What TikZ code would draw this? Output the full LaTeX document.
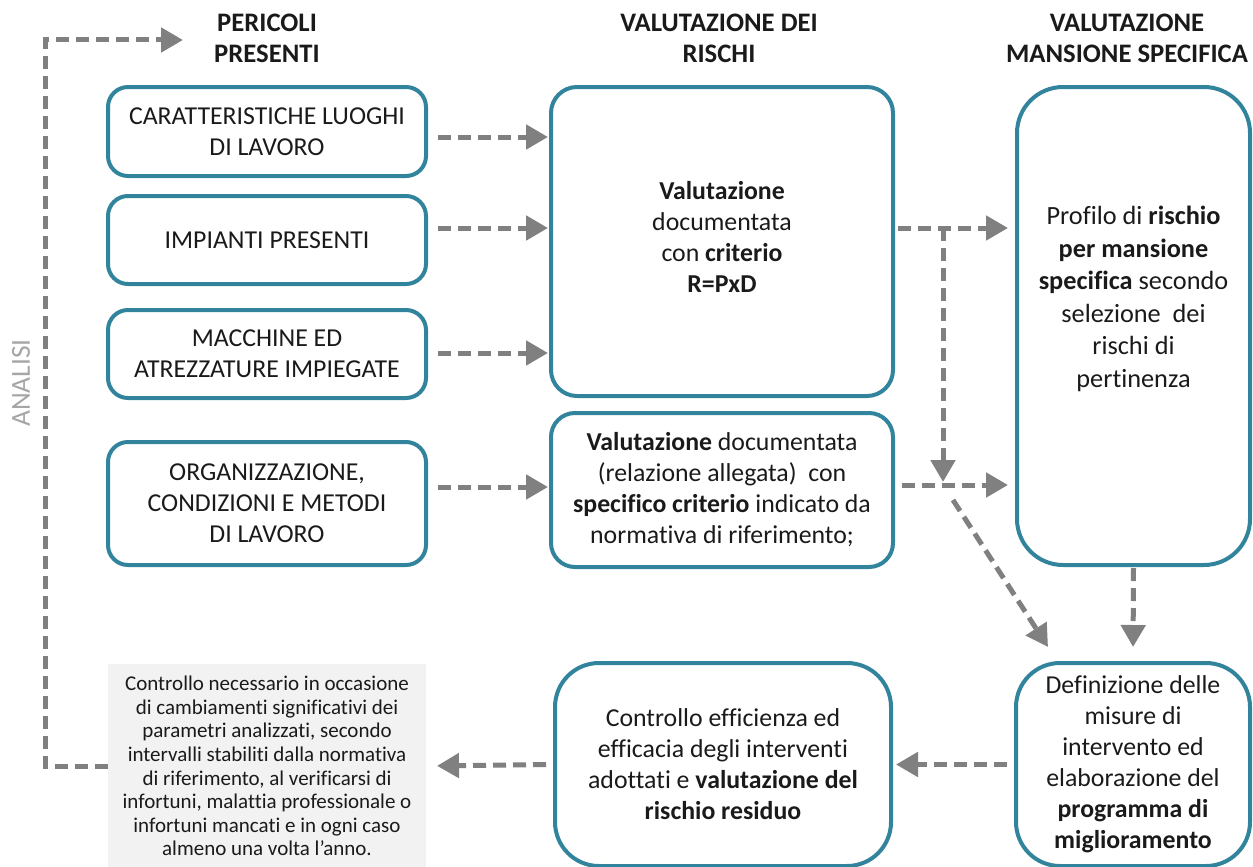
\documentclass[tikz,border=0pt]{standalone}
\usepackage{fontspec}
\setmainfont{Carlito}[Ligatures=NoCommon]
\usetikzlibrary{arrows.meta}
\definecolor{boxteal}{HTML}{31849B}
\definecolor{arrgrey}{HTML}{808080}
\definecolor{txt}{HTML}{1A1A1A}
\definecolor{analgrey}{HTML}{A6A6A6}
\definecolor{notegrey}{HTML}{F2F2F2}
\begin{document}
\begin{tikzpicture}[x=1pt,y=-1pt,
  box/.style={draw=boxteal, line width=4pt, rounded corners=#1, align=center, inner sep=0pt, font=\fontsize{25.8}{31}\selectfont, text=txt},
  box/.default=20pt,
  lbl/.style={align=center, inner sep=0pt, font=\fontsize{25.8}{31}\selectfont, text=txt},
  arr/.style={draw=arrgrey, line width=5pt, dash pattern=on 13pt off 7pt, -{Triangle[length=22pt,width=24pt]}},
  hdr/.style={align=center, inner sep=0pt, font=\bfseries\fontsize{26.7}{31}\selectfont, text=txt}
]
\useasboundingbox (0,0) rectangle (1253,867);

% headers
\node[hdr] (h1) at (267,38) {PERICOLI\\PRESENTI};
\node[hdr] (h2) at (719,38) {VALUTAZIONE DEI\\RISCHI};
\node[hdr] (h3) at (1127,38) {VALUTAZIONE\\MANSIONE SPECIFICA};

\node[rotate=90, text=analgrey, inner sep=0pt, font=\fontsize{27.5}{30}\selectfont] (an) at (21,383) {ANALISI};

% left column
\node[box, minimum width=318, minimum height=89] (B1) at (267,131.5) {CARATTERISTICHE LUOGHI\\DI LAVORO};
\node[box, minimum width=318, minimum height=88] (B2) at (267,240) {IMPIANTI PRESENTI};
\node[box, minimum width=318, minimum height=88] (B3) at (267,354) {MACCHINE ED\\ATREZZATURE IMPIEGATE};
\node[box, minimum width=318, minimum height=123] (B4) at (267,503.5) {ORGANIZZAZIONE,\\CONDIZIONI E METODI\\DI LAVORO};

% middle column
\node[box=26pt, minimum width=342, minimum height=309] (M1) at (722,241.5) {};
\node[lbl] (M1t) at (722,237) {\textbf{Valutazione}\\documentata\\con \textbf{criterio}\\\textbf{R=PxD}};
\node[box=24pt, minimum width=342, minimum height=154] (M2) at (722,490) {\textbf{Valutazione} documentata\\(relazione allegata)\ \ con\\\textbf{specifico criterio} indicato da\\normativa di riferimento;};

% right column
\node[box=46pt, minimum width=233, minimum height=478] (R1) at (1133.5,326) {};
\node[lbl, font=\fontsize{26.3}{32.5}\selectfont] (R1t) at (1133.5,299) {Profilo di \textbf{rischio}\\\textbf{per mansione}\\\textbf{specifica} secondo\\selezione\ \ dei\\rischi di\\pertinenza};

% bottom row
\node[fill=notegrey, draw=none, outer sep=0pt, inner sep=0pt, minimum width=318, minimum height=204, align=center, text=txt, font=\fontsize{21}{23.6}\selectfont] (GB) at (267,766) {Controllo necessario in occasione\\di cambiamenti significativi dei\\parametri analizzati, secondo\\intervalli stabiliti dalla normativa\\di riferimento, al verificarsi di\\infortuni, malattia professionale o\\infortuni mancati e in ogni caso\\almeno una volta l’anno.};
\node[box=44pt, minimum width=336, minimum height=203] (M3) at (723,764.5) {Controllo efficienza ed\\efficacia degli interventi\\adottati e \textbf{valutazione del}\\\textbf{rischio residuo}};
\node[box=44pt, minimum width=234, minimum height=203] (R2) at (1133,764.5) {Definizione delle\\misure di\\intervento ed\\elaborazione del\\\textbf{programma di}\\\textbf{miglioramento}};

% helper coordinates
\coordinate (y1) at (0,137);
\coordinate (y2) at (0,228);
\coordinate (y3) at (0,353);
\coordinate (y4) at (0,487);
\coordinate (y5) at (0,228);
\coordinate (y6) at (0,485);
\coordinate (j1) at (943,228);
\coordinate (j2) at (943,485);
\coordinate (d1) at (953,500);
\coordinate (d2) at (1048,647);
\coordinate (lc) at (45,40);
\coordinate (lt) at (183,40);

% arrows left -> middle
\draw[arr, shorten <=10pt, shorten >=1pt] (B1.east |- y1) -- (M1.west |- y1);
\draw[arr, shorten <=10pt, shorten >=1pt] (B2.east |- y2) -- (M1.west |- y2);
\draw[arr, shorten <=10pt, shorten >=1pt] (B3.east |- y3) -- (M1.west |- y3);
\draw[arr, shorten <=10pt, shorten >=1pt] (B4.east |- y4) -- (M2.west |- y4);

% middle -> right
\draw[arr, shorten <=3pt, shorten >=7pt] (M1.east |- y5) -- (R1.west |- y5);
\draw[arr, shorten <=7pt, shorten >=7pt] (M2.east |- y6) -- (R1.west |- y6);
\draw[arr, shorten >=3pt] (j1) -- (j2);
\draw[arr] (d1) -- (d2);

% right -> bottom
\draw[arr, shorten <=1pt, shorten >=14pt] (R1.south) -- (R2.north);
\draw[arr, shorten <=7pt, shorten >=3pt] (R2.west) -- (M3.east);
\draw[arr, shorten <=7pt, shorten >=11pt] (M3.west) -- (GB.east);

% loop back
\draw[arr] (GB.west) -| (lc) -- (lt);
\end{tikzpicture}
\end{document}
